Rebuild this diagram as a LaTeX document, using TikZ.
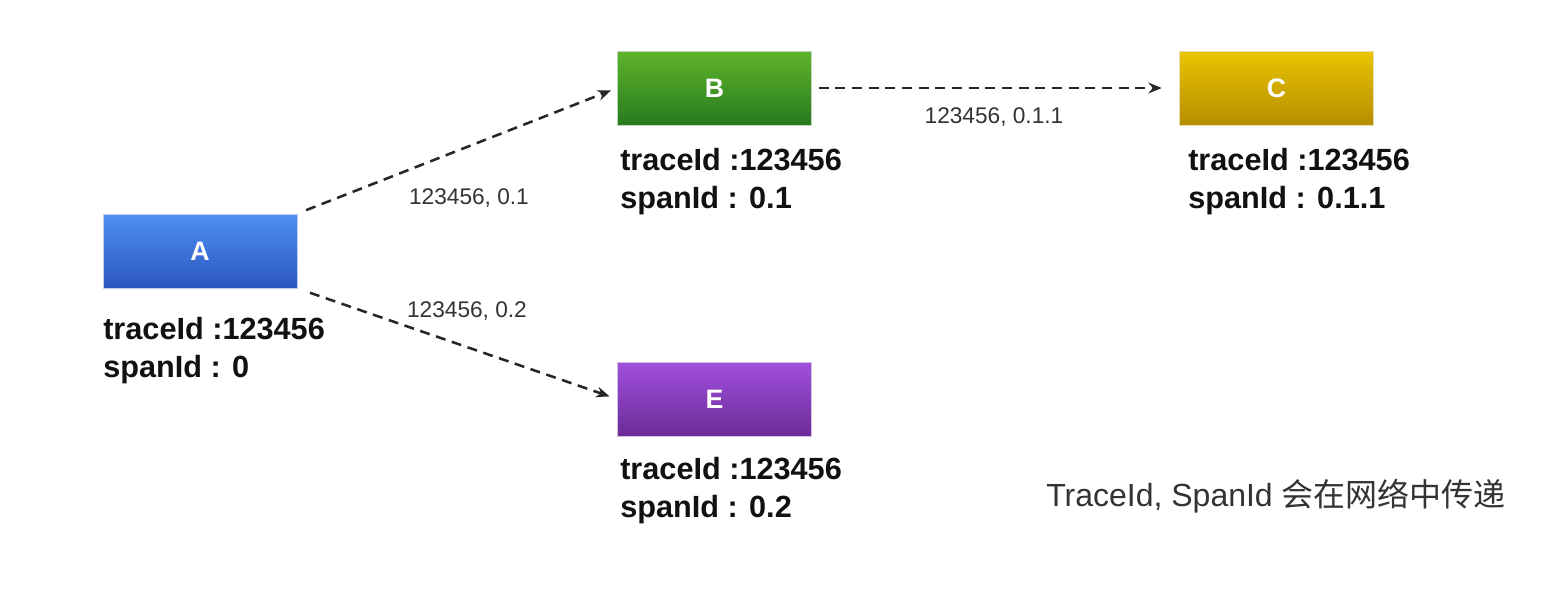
\documentclass[tikz,border=0pt]{standalone}
\usepackage{fontspec}
\setmainfont{Liberation Sans}
\newfontfamily\cjk{Noto Sans CJK SC}
\usetikzlibrary{arrows.meta,shadings}
\definecolor{aTop}{HTML}{5090F2}
\definecolor{aBot}{HTML}{2A56C0}
\definecolor{bTop}{HTML}{5EB42C}
\definecolor{bBot}{HTML}{287A1E}
\definecolor{cTop}{HTML}{E8C400}
\definecolor{cBot}{HTML}{B68E00}
\definecolor{eTop}{HTML}{A250DE}
\definecolor{eBot}{HTML}{6A2C96}
\definecolor{txt}{HTML}{111111}
\definecolor{lbl}{HTML}{333333}
\tikzset{
  svc/.style={rectangle, minimum width=145.5pt, minimum height=55.5pt, inner sep=0pt,
    text=white, font=\fontsize{20}{20}\selectfont\bfseries, draw=#1!30!white, line width=0.6pt},
  info/.style={anchor=base west, align=left, inner sep=0pt, text=txt,
    font=\fontsize{23}{28.5}\selectfont\bfseries},
  flow/.style={draw=black!85, line width=1.9pt, dash pattern=on 7.5pt off 5pt,
    -{Stealth[length=10pt,width=8pt]}},
  elbl/.style={anchor=base, inner sep=0pt, text=lbl, font=\fontsize{17}{17}\selectfont}
}
\begin{document}
\begin{tikzpicture}[x=0.75pt,y=-0.75pt]
\useasboundingbox[fill=white] (0,0) rectangle (1546,594);
\node[svc=aBot, top color=aTop, bottom color=aBot] (A) at (200,251) {A};
\node[svc=bBot, top color=bTop, bottom color=bBot] (B) at (714.5,88) {B};
\node[svc=cBot, top color=cTop, bottom color=cBot] (C) at (1276.5,88) {C};
\node[svc=eBot, top color=eTop, bottom color=eBot] (E) at (714.5,399) {E};

\node[info] (tA) at (103,377) {traceId :123456\\spanId : 0};
\node[info] (tB) at (620,208) {traceId :123456\\spanId : 0.1};
\node[info] (tC) at (1188,208) {traceId :123456\\spanId : 0.1.1};
\node[info] (tE) at (620,517) {traceId :123456\\spanId : 0.2};

\draw[flow, shorten <=7pt, shorten >=5pt] (A.north east) -- (B.west);
\draw[flow, shorten <=10pt, shorten >=6pt] (A.south east) -- (E.west);
\draw[flow, shorten <=5pt, shorten >=13pt] (B.east) -- (C.west);

\node[elbl] (l1) at (469,204) {123456, 0.1};
\node[elbl] (l2) at (467,317) {123456, 0.2};
\node[elbl] (l3) at (994,123) {123456, 0.1.1};

\node[anchor=base, inner sep=0pt, text=lbl, font=\fontsize{24}{24}\selectfont] (note) at (1276,506) {TraceId, SpanId {\cjk 会在网络中传递}};
\end{tikzpicture}
\end{document}
